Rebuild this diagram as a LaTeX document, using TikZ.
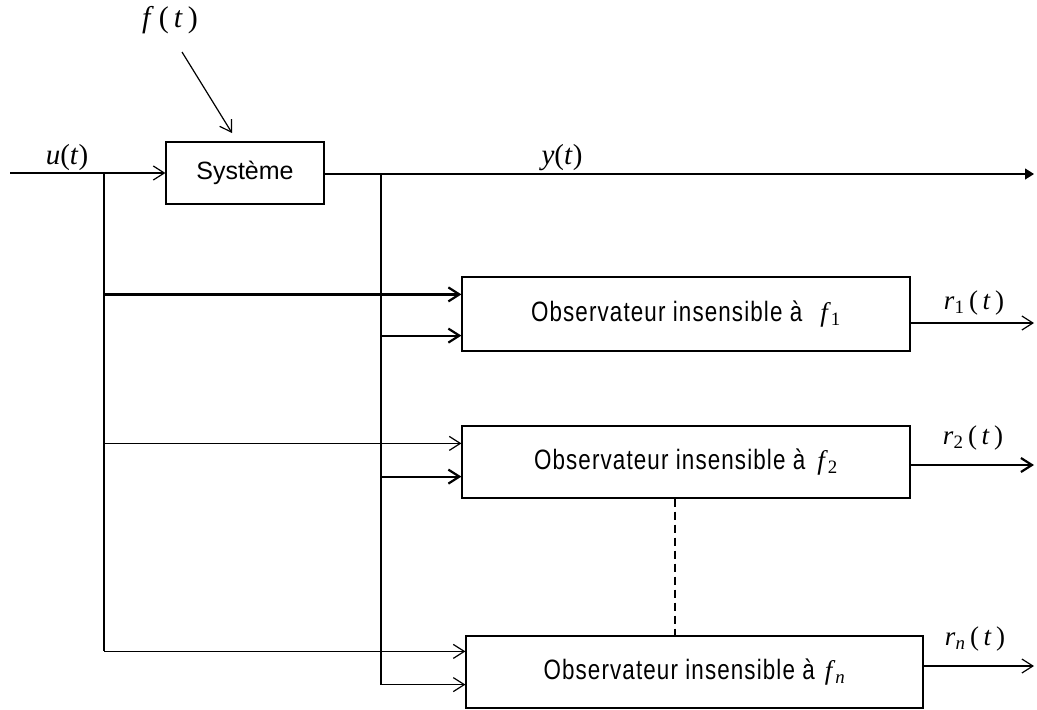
\documentclass[tikz,border=0pt]{standalone}
\usepackage{fontspec}
\setmainfont{Liberation Serif}
\newfontfamily\sysfont{Liberation Sans}
\newfontfamily\obsfont[FakeStretch=0.8,LetterSpace=4]{Liberation Sans}
\usetikzlibrary{arrows.meta}
\newcommand\labsize{\fontsize{27}{27}\selectfont}
\newcommand\obstext[2]{{\obsfont\fontsize{28}{28}\selectfont Observateur insensible à}\hspace{#1}{\fontsize{27}{27}\selectfont\textit{f}\textsubscript{#2}}}
\tikzset{
  barb/.tip={Straight Barb[length=11pt,width=14pt]},
  tri/.tip={Triangle[length=9pt,width=11pt]},
  wire/.style={line width=1.2pt},
  heavy/.style={line width=2.2pt},
  blk/.style={draw, line width=1.2pt, inner sep=0pt},
  lbl/.style={inner sep=0pt, font=\labsize}
}
\begin{document}
\begin{tikzpicture}[x=1pt,y=-1pt]
\useasboundingbox (0,0) rectangle (1037,710);

% blocks
\node[blk, minimum width=158pt, minimum height=62pt] (sys) at (245,173)
  {\sysfont\fontsize{25}{25}\selectfont Système};
\node[blk, minimum width=448pt, minimum height=74pt] (obs1) at (686,314) {\obstext{18pt}{1}};
\node[blk, minimum width=448pt, minimum height=72pt] (obs2) at (686,462) {\obstext{12pt}{2}};
\node[blk, minimum width=457pt, minimum height=72pt] (obsn) at (694.5,672) {\obstext{10pt}{\textit{n}}};

% labels
\node[lbl, font=\fontsize{30}{30}\selectfont] (flab) at (170,20) {\textit{f}\,(\,\textit{t}\,)};
\node[lbl, font=\fontsize{29}{29}\selectfont] (ulab) at (67,158) {\textit{u}(\textit{t})};
\node[lbl, font=\fontsize{29}{29}\selectfont] (ylab) at (562,158) {\textit{y}(\textit{t})};
\node[lbl] (r1lab) at (974,303) {\textit{r}\textsubscript{1}\,(\,\textit{t}\,)};
\node[lbl] (r2lab) at (973,438) {\textit{r}\textsubscript{2}\,(\,\textit{t}\,)};
\node[lbl] (rnlab) at (975,639) {\textit{r}\textsubscript{\textit{n}}\,(\,\textit{t}\,)};

% junctions and free ends
\coordinate (uin) at (10,173);
\coordinate (uj) at (104,173);
\coordinate (yj) at (381,174);
\coordinate (yout) at (1034,174);
\coordinate (fsrc) at (182,52);
\coordinate (ftip) at (232,133);
\coordinate (in1u) at ([yshift=-18pt]obs1.north west);
\coordinate (in1y) at ([yshift=16pt]obs1.south west);
\coordinate (in2u) at ([yshift=-18pt]obs2.north west);
\coordinate (in2y) at ([yshift=22pt]obs2.south west);
\coordinate (innu) at ([yshift=-16pt]obsn.north west);
\coordinate (inny) at ([yshift=24pt]obsn.south west);
\coordinate (o1) at ([yshift=-9pt]obs1.east);
\coordinate (o2) at ([yshift=-3pt]obs2.east);
\coordinate (on) at ([yshift=6pt]obsn.east);
\coordinate (r1end) at (1034,0 |- o1);
\coordinate (r2end) at (1034,0 |- o2);
\coordinate (rnend) at (1034,0 |- on);

% system input, fault and output
\draw[wire,-barb] (uin) -- (sys.west);
\draw[wire,-barb] (fsrc) -- (ftip);
\draw[wire,-tri] (sys.east |- yj) -- (yout);

% distribution spines
\draw[wire] (uj) -- (uj |- innu);
\draw[wire] (yj) -- (yj |- inny);

% observer inputs
\draw[heavy,-barb] (uj |- in1u) -- (in1u);
\draw[heavy,-barb] (yj |- in1y) -- (in1y);
\draw[wire,-barb] (uj |- in2u) -- (in2u);
\draw[heavy,-barb] (yj |- in2y) -- (in2y);
\draw[wire,-barb] (uj |- innu) -- (innu);
\draw[wire,-barb] (yj |- inny) -- (inny);

% residual outputs
\draw[wire,-barb] (o1) -- (r1end);
\draw[heavy,-barb] (o2) -- (r2end);
\draw[wire,-barb] (on) -- (rnend);

% continuation between observers
\draw[wire, dash pattern=on 8pt off 5pt] ([xshift=-11pt]obs2.south) -- ([xshift=-11pt]obs2.south |- obsn.north);
\end{tikzpicture}
\end{document}
